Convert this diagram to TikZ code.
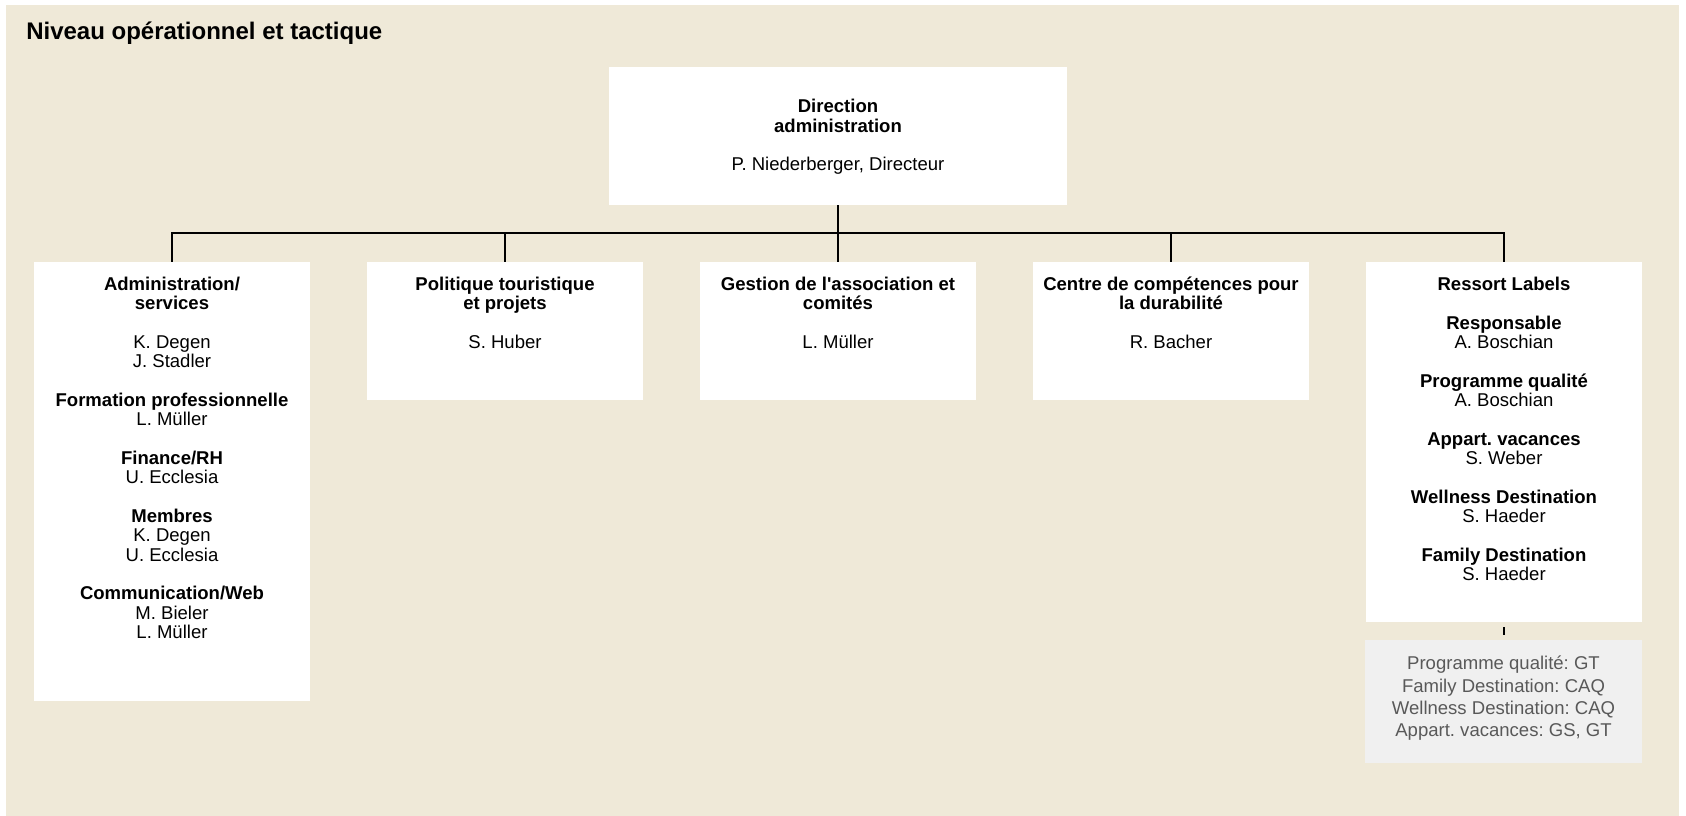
\documentclass[tikz,border=0pt]{standalone}
\usepackage{fontspec}
\setmainfont{Liberation Sans}
\usetikzlibrary{fit}
\definecolor{beige}{HTML}{EFE9D8}
\definecolor{greybox}{HTML}{F0F0F0}
\definecolor{greytxt}{HTML}{595959}
\newcommand\firstln{\rule{0pt}{11pt}}
\frenchspacing
\begin{document}
\frenchspacing
\begin{tikzpicture}[x=0.75pt,y=-0.75pt,
  box/.style={draw=none, fill=white, inner sep=0pt, rectangle},
  notebox/.style={draw=none, fill=greybox, inner sep=0pt, rectangle},
  txt/.style={anchor=north, align=center, inner sep=0pt, font=\fontsize{13.9pt}{14.5pt}\selectfont\frenchspacing},
  notetxt/.style={anchor=north, align=center, inner sep=0pt, text=greytxt, font=\fontsize{13.9pt}{16.65pt}\selectfont\frenchspacing},
  conn/.style={draw=black, line width=2.2pt},
  tick/.style={draw=black, line width=1.5pt, shorten <=3.75pt, shorten >=3.75pt},
  title/.style={anchor=base west, inner sep=0pt, font=\fontsize{18pt}{21pt}\selectfont\bfseries},
]
\useasboundingbox (0,0) rectangle (1686,816);
\fill[beige] (6,5) rectangle (1679,816);

\node[title] (title) at (26,39.5) {Niveau opérationnel et tactique};

\node[box, fit={(609,67) (1067,205)}] (dir) {};
\node[box, fit={(34,262) (310,701)}] (admin) {};
\node[box, fit={(367,262) (643,400)}] (polit) {};
\node[box, fit={(700,262) (976,400)}] (gest) {};
\node[box, fit={(1033,262) (1309,400)}] (centre) {};
\node[box, fit={(1366,262) (1642,622)}] (ressort) {};
\node[notebox, fit={(1365,640) (1642,763)}] (note) {};

\node[txt] (dirT) at (838,98) {\firstln\textbf{Direction}\\\textbf{administration}\\[14.5pt]P. Niederberger, Directeur};
\node[txt] (adminT) at (172,275.5) {\firstln\textbf{Administration/}\\\textbf{services}\\[14.5pt]K. Degen\\J. Stadler\\[14.5pt]\textbf{Formation professionnelle}\\L. Müller\\[14.5pt]\textbf{Finance/RH}\\U. Ecclesia\\[14.5pt]\textbf{Membres}\\K. Degen\\U. Ecclesia\\[14.5pt]\textbf{Communication/Web}\\M. Bieler\\L. Müller};
\node[txt] (politT) at (505,275.5) {\firstln\textbf{Politique touristique}\\\textbf{et projets}\\[14.5pt]S. Huber};
\node[txt] (gestT) at (838,275.5) {\firstln\textbf{Gestion de l\textquotesingle association et}\\\textbf{comités}\\[14.5pt]L. Müller};
\node[txt] (centreT) at (1171,275.5) {\firstln\textbf{Centre de compétences pour}\\\textbf{la durabilité}\\[14.5pt]R. Bacher};
\node[txt] (ressortT) at (1504,275.5) {\firstln\textbf{Ressort Labels}\\[14.5pt]\textbf{Responsable}\\A. Boschian\\[14.5pt]\textbf{Programme qualité}\\A. Boschian\\[14.5pt]\textbf{Appart. vacances}\\S. Weber\\[14.5pt]\textbf{Wellness Destination}\\S. Haeder\\[14.5pt]\textbf{Family Destination}\\S. Haeder};
\node[notetxt] (noteT) at (1503.5,655) {\firstln Programme qualité: GT\\Family Destination: CAQ\\Wellness Destination: CAQ\\Appart. vacances: GS, GT};

\coordinate (bus) at (0,233);
\draw[conn] (dir.south) -- (dir.south |- bus);
\draw[conn, line cap=rect] (admin.north |- bus) -- (ressort.north |- bus);
\foreach \n in {admin,polit,gest,centre,ressort} \draw[conn] (\n.north |- bus) -- (\n.north);
\draw[tick] (ressort.south) -- (ressort.south |- note.north);
\end{tikzpicture}
\end{document}
